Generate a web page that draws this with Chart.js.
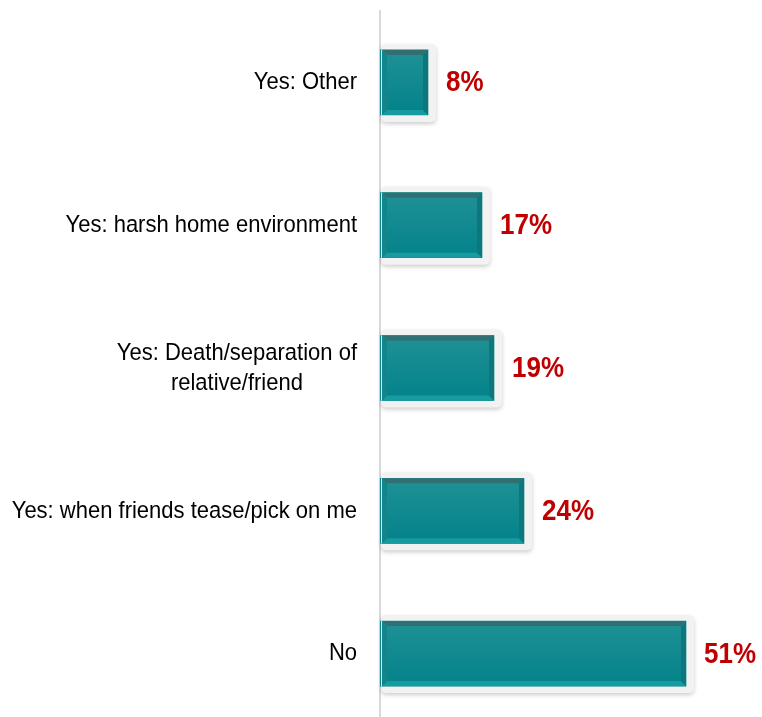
<!DOCTYPE html>
<html>
<head>
<meta charset="utf-8">
<script src="https://cdn.jsdelivr.net/npm/chart.js@4/dist/chart.umd.min.js"></script>
<style>
  html, body { margin: 0; padding: 0; background: #fff; overflow: hidden; }
  #wrap { width: 762px; height: 730px; }
</style>
</head>
<body>
<div id="wrap"><canvas id="chart"></canvas></div>
<script>
const categories = [
  'Yes: Other',
  'Yes: harsh home environment',
  ['Yes: Death/separation of', 'relative/friend'],
  'Yes: when friends tease/pick on me',
  'No'
];
const shares = [8, 17, 19, 24, 51];

const labelFont = '22px "Liberation Sans", Arial, sans-serif';
const valueFont = 'bold 26px "Liberation Sans", Arial, sans-serif';
// the text is set a little taller than the font's natural proportions
const textStretch = 1.12;

function poly(ctx, pts, color) {
  ctx.beginPath();
  ctx.moveTo(pts[0][0], pts[0][1]);
  pts.slice(1).forEach(p => ctx.lineTo(p[0], p[1]));
  ctx.closePath();
  ctx.fillStyle = color;
  ctx.fill();
}

function tallText(ctx, text, x, y) {
  ctx.save();
  ctx.translate(x, y);
  ctx.scale(1, textStretch);
  ctx.fillText(text, 0, 0);
  ctx.restore();
}

// grey frame behind each bar, bevelled faces, value text and category labels
const barDecor = {
  id: 'barDecor',
  beforeDatasetsDraw(chart) {
    const ctx = chart.ctx;
    chart.getDatasetMeta(0).data.forEach(bar => {
      const {x, y, base, height} = bar.getProps(['x', 'y', 'base', 'height'], true);
      ctx.save();
      ctx.shadowColor = 'rgba(0,0,0,0.2)';
      ctx.shadowBlur = 4;
      ctx.shadowOffsetY = 2;
      ctx.fillStyle = '#f2f2f2';
      ctx.beginPath();
      ctx.roundRect(base + 1, y - height / 2 - 6, x - base + 7, height + 13, 5);
      ctx.fill();
      ctx.restore();
    });
  },
  afterDatasetsDraw(chart) {
    const ctx = chart.ctx;
    const w = 5;
    chart.getDatasetMeta(0).data.forEach((bar, i) => {
      const {x, y, base, height} = bar.getProps(['x', 'y', 'base', 'height'], true);
      const L = base + 2, R = x, T = y - height / 2, B = y + height / 2;
      ctx.save();
      ctx.fillStyle = '#f2f2f2';
      ctx.fillRect(base + 1, T, 1, B - T);
      const g = ctx.createLinearGradient(0, T, 0, B);
      g.addColorStop(0, '#1f9195');
      g.addColorStop(1, '#03828a');
      ctx.fillStyle = g;
      ctx.fillRect(L, T, R - L, B - T);
      poly(ctx, [[L, T], [R, T], [R - w, T + w], [L + w, T + w]], '#316f72');
      poly(ctx, [[L, B], [R, B], [R - w, B - w], [L + w, B - w]], '#169ba0');
      poly(ctx, [[L, T], [L + w, T + w], [L + w, B - w], [L, B]], '#12858a');
      poly(ctx, [[R, T], [R - w, T + w], [R - w, B - w], [R, B]], '#0e777c');

      ctx.font = valueFont;
      ctx.fillStyle = '#c00000';
      ctx.textAlign = 'left';
      ctx.textBaseline = 'middle';
      tallText(ctx, shares[i] + '%', R + 18, y + 1);
      ctx.restore();
    });
  },
  afterDraw(chart) {
    const ctx = chart.ctx;
    const yScale = chart.scales.y;
    ctx.save();
    ctx.font = labelFont;
    ctx.fillStyle = '#000';
    ctx.textAlign = 'center';
    ctx.textBaseline = 'middle';
    categories.forEach((label, i) => {
      const cy = yScale.getPixelForTick(i);
      const lines = [].concat(label);
      const widest = Math.max(...lines.map(l => ctx.measureText(l).width));
      const cx = yScale.right - 23 - widest / 2;
      lines.forEach((line, j) => {
        tallText(ctx, line, cx, cy + (j - (lines.length - 1) / 2) * 30);
      });
    });
    ctx.restore();
  }
};

new Chart(document.getElementById('chart'), {
  type: 'bar',
  data: {
    labels: categories,
    datasets: [{
      data: shares,
      backgroundColor: '#0a878c',
      borderWidth: 0,
      barThickness: 65
    }]
  },
  options: {
    indexAxis: 'y',
    responsive: true,
    maintainAspectRatio: false,
    animation: false,
    layout: { padding: { top: 11, bottom: 5, right: 22, left: 0 } },
    plugins: { legend: { display: false }, tooltip: { enabled: false } },
    scales: {
      x: { display: false, min: 0, max: 60 },
      y: {
        grid: { display: false },
        border: { color: '#d9d9d9', width: 2 },
        ticks: { display: false },
        afterFit(scale) { scale.width = 380; }
      }
    }
  },
  plugins: [barDecor]
});
</script>
</body>
</html>
